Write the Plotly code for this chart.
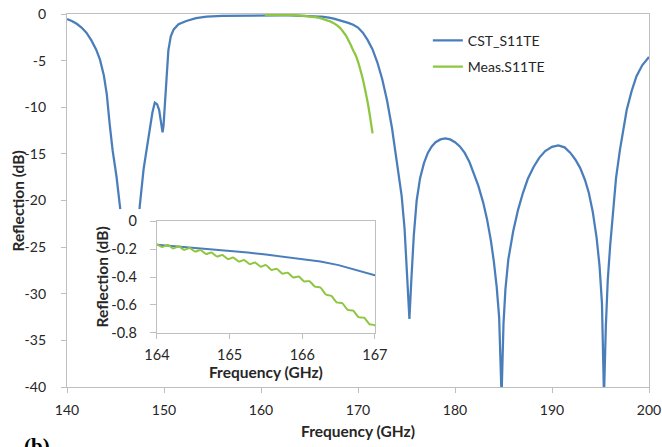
import plotly.graph_objects as go

# ---------------- data ----------------
cst_freq = [140.0, 140.5, 141.0, 141.5, 142.0, 142.5, 143.0, 143.4, 143.8, 144.1,
            144.4, 144.7, 145.1, 145.3, 145.5, 146.0, 146.5, 147.0, 147.5, 147.9,
            148.2, 148.5, 148.8, 149.05, 149.3, 149.5, 149.7, 149.85, 149.95, 150.1,
            150.25, 150.45, 150.7, 151.0, 151.5, 152.3, 153.3, 154.4, 156.0, 158.0,
            160.0, 162.0, 163.0, 164.0, 164.25, 164.5, 164.75, 165.0, 165.25, 165.5,
            165.75, 166.0, 166.25, 166.5, 166.75, 167.0, 167.5, 168.0, 168.5, 169.0,
            169.5, 170.0, 170.5, 171.0, 171.5, 172.0, 172.5, 173.0, 173.5, 174.0,
            174.5, 174.8, 175.05, 175.3, 175.5, 175.75, 176.05, 176.4, 176.8, 177.2,
            177.6, 178.0, 178.5, 179.0, 179.5, 180.0, 180.5, 181.0, 181.5, 181.9,
            182.4, 182.9, 183.3, 183.7, 184.0, 184.3, 184.55, 184.8, 185.0, 185.2,
            185.5, 186.0, 186.5, 187.0, 187.5, 188.1, 188.7, 189.3, 190.0, 190.65,
            191.3, 191.9, 192.4, 192.9, 193.4, 193.8, 194.2, 194.6, 194.9, 195.15,
            195.36, 195.55, 195.75, 196.0, 196.3, 196.6, 197.0, 197.4, 197.7, 198.2,
            198.7, 199.3, 200.0]
cst_s11 = [-0.55, -0.75, -1.05, -1.45, -2.0, -2.8, -3.8, -4.9, -6.6, -8.6,
           -11.8, -14.6, -17.4, -19.2, -21.0, -27.0, -35.0, -27.0, -20.6, -16.6,
           -14.5, -12.6, -10.6, -9.5, -9.7, -10.3, -11.6, -12.7, -12.0, -9.2,
           -6.5, -3.9, -2.4, -1.65, -1.1, -0.75, -0.45, -0.29, -0.2, -0.16,
           -0.15, -0.15, -0.16, -0.17, -0.18, -0.19, -0.2, -0.21, -0.225, -0.24,
           -0.255, -0.27, -0.29, -0.315, -0.35, -0.387, -0.5, -0.63, -0.78, -0.95,
           -1.15, -1.45, -2.0, -2.8, -3.8, -5.2, -7.0, -9.3, -12.2, -15.6,
           -19.5, -23.0, -27.5, -32.7, -28.5, -23.8, -20.0, -17.6, -16.0, -14.9,
           -14.2, -13.75, -13.45, -13.35, -13.45, -13.75, -14.2, -14.9, -15.9, -17.0,
           -18.4, -20.2, -22.0, -24.3, -26.5, -29.3, -32.5, -41.0, -33.2, -29.5,
           -26.3, -23.3, -21.0, -19.2, -17.7, -16.4, -15.4, -14.7, -14.25, -14.1,
           -14.3, -14.9, -15.6, -16.5, -17.8, -19.2, -21.2, -24.0, -27.0, -31.0,
           -41.0, -33.5, -28.5, -24.8, -21.0, -17.6, -14.6, -12.0, -10.3, -8.3,
           -6.7, -5.5, -4.6]

meas_freq = [160.4, 161.0, 162.0, 163.0, 163.5,
             164.0, 164.075, 164.15, 164.225, 164.3, 164.375, 164.45, 164.525, 164.6, 164.675,
             164.75, 164.825, 164.9, 164.975, 165.05, 165.125, 165.2, 165.275, 165.35, 165.425,
             165.5, 165.575, 165.65, 165.725, 165.8, 165.875, 165.95, 166.025, 166.1, 166.175,
             166.25, 166.325, 166.4, 166.475, 166.55, 166.625, 166.7, 166.775, 166.85, 166.925,
             167.0,
             167.25, 167.5, 167.75, 168.0, 168.25, 168.5, 168.75, 169.0, 169.25, 169.5,
             169.75, 170.0, 170.25, 170.5, 170.75, 171.0, 171.15, 171.3, 171.5]
meas_s11 = [-0.08, -0.08, -0.09, -0.12, -0.145,
            -0.168, -0.185, -0.171, -0.196, -0.181, -0.206, -0.192, -0.218, -0.207, -0.236,
            -0.225, -0.254, -0.243, -0.272, -0.261, -0.290, -0.279, -0.308, -0.297, -0.326,
            -0.315, -0.349, -0.342, -0.376, -0.369, -0.403, -0.396, -0.431, -0.430, -0.469,
            -0.475, -0.525, -0.535, -0.581, -0.587, -0.634, -0.640, -0.686, -0.691, -0.736,
            -0.745,
            -0.86, -1.0, -1.15, -1.35, -1.6, -1.95, -2.3, -2.8, -3.3, -3.9,
            -4.4, -5.1, -6.0, -7.0, -8.2, -9.5, -10.4, -11.4, -12.8]

main_x_ticks = [140, 150, 160, 170, 180, 190, 200]
main_y_ticks = [0, -5, -10, -15, -20, -25, -30, -35, -40]
main_y_labels = ["0", "-5", "-10", "-15", "-20", "-25", "-30", "-35", "-40"]
inset_x_ticks = [164, 165, 166, 167]
inset_y_ticks = [0, -0.2, -0.4, -0.6, -0.8]
inset_y_labels = ["0", "-0.2", "-0.4", "-0.6", "-0.8"]

BLUE = "#4A7EBB"
GREEN = "#8DC63F"
AXIS = "#BFBFBF"
TXT = "#262626"
FONT = "Lato"

fig = go.Figure()

# main chart
fig.add_trace(go.Scatter(x=cst_freq, y=cst_s11, mode="lines", name="CST_S11TE",
                         line=dict(color=BLUE, width=2.25), xaxis="x", yaxis="y",
                         legendgroup="a"))
fig.add_trace(go.Scatter(x=meas_freq, y=meas_s11, mode="lines", name="Meas.S11TE",
                         line=dict(color=GREEN, width=2.25, shape="spline", smoothing=0.6),
                         xaxis="x", yaxis="y", legendgroup="b"))
# white panel behind the inset (empty subplot)
fig.add_trace(go.Scatter(x=[], y=[], mode="lines", showlegend=False,
                         xaxis="x2", yaxis="y2", hoverinfo="skip"))
# inset
fig.add_trace(go.Scatter(x=cst_freq, y=cst_s11, mode="lines", showlegend=False,
                         line=dict(color=BLUE, width=2), xaxis="x3", yaxis="y3"))
fig.add_trace(go.Scatter(x=meas_freq, y=meas_s11, mode="lines", showlegend=False,
                         line=dict(color=GREEN, width=2, shape="spline", smoothing=0.6),
                         xaxis="x3", yaxis="y3"))

common_axis = dict(showline=True, linecolor=AXIS, linewidth=1.3, mirror=True,
                   showgrid=False, zeroline=False, ticks="outside", tickcolor=AXIS,
                   automargin=False, ticklabeloverflow="allow")

fig.update_layout(
    width=662, height=447,
    margin=dict(l=67, r=13, t=14, b=60, autoexpand=False),
    paper_bgcolor="white", plot_bgcolor="white",
    font=dict(family=FONT, size=14, color=TXT),
    showlegend=True,
    legend=dict(x=0.62, y=0.971, xanchor="left", yanchor="top",
                bgcolor="rgba(0,0,0,0)", font=dict(size=14, color=TXT),
                traceorder="grouped", tracegroupgap=5, itemwidth=30),
    xaxis=dict(common_axis, domain=[0, 1], range=[140, 200], tickvals=main_x_ticks,
               ticklen=5, tickfont=dict(size=14, color=TXT), ticklabelstandoff=5,
               title=dict(text="<b>Frequency (GHz)</b>", font=dict(size=15.5, color=TXT),
                          standoff=9),
               anchor="y"),
    yaxis=dict(common_axis, domain=[0, 1], range=[-40, 0], tickvals=main_y_ticks,
               ticktext=main_y_labels, ticklen=5, tickfont=dict(size=14, color=TXT),
               ticklabelstandoff=12, anchor="x"),
    xaxis2=dict(domain=[0.048, 0.5636], visible=False, anchor="y2",
                range=[0, 1], fixedrange=True, automargin=False),
    yaxis2=dict(domain=[0.01, 0.477], visible=False, anchor="x2",
                range=[0, 1], fixedrange=True, automargin=False),
    xaxis3=dict(common_axis, domain=[0.1546, 0.529], range=[164, 167],
                tickvals=inset_x_ticks, ticklen=5, tickfont=dict(size=14.5, color=TXT),
                ticklabelstandoff=3,
                title=dict(text="<b>Frequency (GHz)</b>", font=dict(size=15.5, color=TXT),
                           standoff=0),
                anchor="y3"),
    yaxis3=dict(common_axis, domain=[0.1448, 0.445], range=[-0.8, 0],
                tickvals=inset_y_ticks, ticktext=inset_y_labels, ticklen=6,
                tickfont=dict(size=14.5, color=TXT), ticklabelstandoff=10,
                anchor="x3"),
    annotations=[
        dict(text="<b>Reflection (dB)</b>", xref="paper", yref="paper",
             x=-0.0842, y=0.5, xanchor="center", yanchor="middle", textangle=-90,
             showarrow=False, font=dict(size=15.5, color=TXT)),
        dict(text="<b>Reflection (dB)</b>", xref="paper", yref="paper",
             x=0.0593, y=0.295, xanchor="center", yanchor="middle", textangle=-90,
             showarrow=False, font=dict(size=15.5, color=TXT)),
        dict(text="<b>(b)</b>", xref="paper", yref="paper",
             x=-0.052, y=-0.12, xanchor="center", yanchor="top",
             showarrow=False, font=dict(family="Liberation Serif", size=21,
                                        color="black")),
    ],
)

fig.write_html("out.html", config={"displayModeBar": False},
               post_script="document.body.style.margin='0px';")
